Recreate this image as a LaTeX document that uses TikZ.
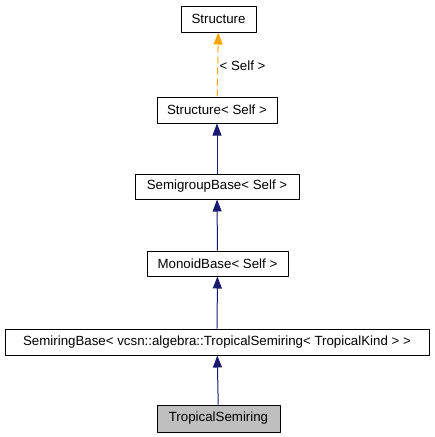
\documentclass[tikz,border=0pt]{standalone}
\usepackage{fontspec}
\setmainfont{Liberation Sans}
\usetikzlibrary{arrows.meta}
\definecolor{navy}{HTML}{191970}
\definecolor{tmplorange}{HTML}{FFA500}
\begin{document}
\begin{tikzpicture}[x=1pt, y=-1pt, font=\fontsize{13.3}{16}\selectfont, line join=round, line width=1pt,
    cls/.style={draw, inner sep=0pt, minimum height=26pt},
    inherit/.style={navy, -{Triangle[width=9pt,length=12pt]}},
    tmpl/.style={tmplorange, dashed, dash pattern=on 7pt off 4pt, -{Triangle[width=9pt,length=12pt]}}]
  \useasboundingbox (0,0) rectangle (435,437);
  % Klassen
  \node[cls, minimum width=75pt] (struct) at (218.5,19) {Structure};
  \node[cls, minimum width=120pt] (structself) at (217,110) {Structure< Self >};
  \node[cls, minimum width=164pt, minimum height=25pt] (semigroup) at (217,186.5) {SemigroupBase< Self >};
  \node[cls, minimum width=141pt, minimum height=25pt] (monoid) at (217.5,263.5) {MonoidBase< Self >};
  \node[cls, minimum width=424pt] (semiring) at (217,342) {SemiringBase< vcsn::algebra::TropicalSemiring< TropicalKind > >};
  \node[cls, fill=black!25, minimum width=123pt, minimum height=27pt] (tropical) at (218.5,418.5) {TropicalSemiring};
  % Vererbung
  \draw[tmpl] (structself) -- node[right, black, xshift=-2pt, yshift=-1pt] {< Self >} (struct);
  \draw[inherit] (semigroup) -- (structself);
  \draw[inherit] (monoid) -- (semigroup);
  \draw[inherit] (semiring) -- (monoid);
  \draw[inherit] (tropical) -- (semiring);
\end{tikzpicture}
\end{document}
